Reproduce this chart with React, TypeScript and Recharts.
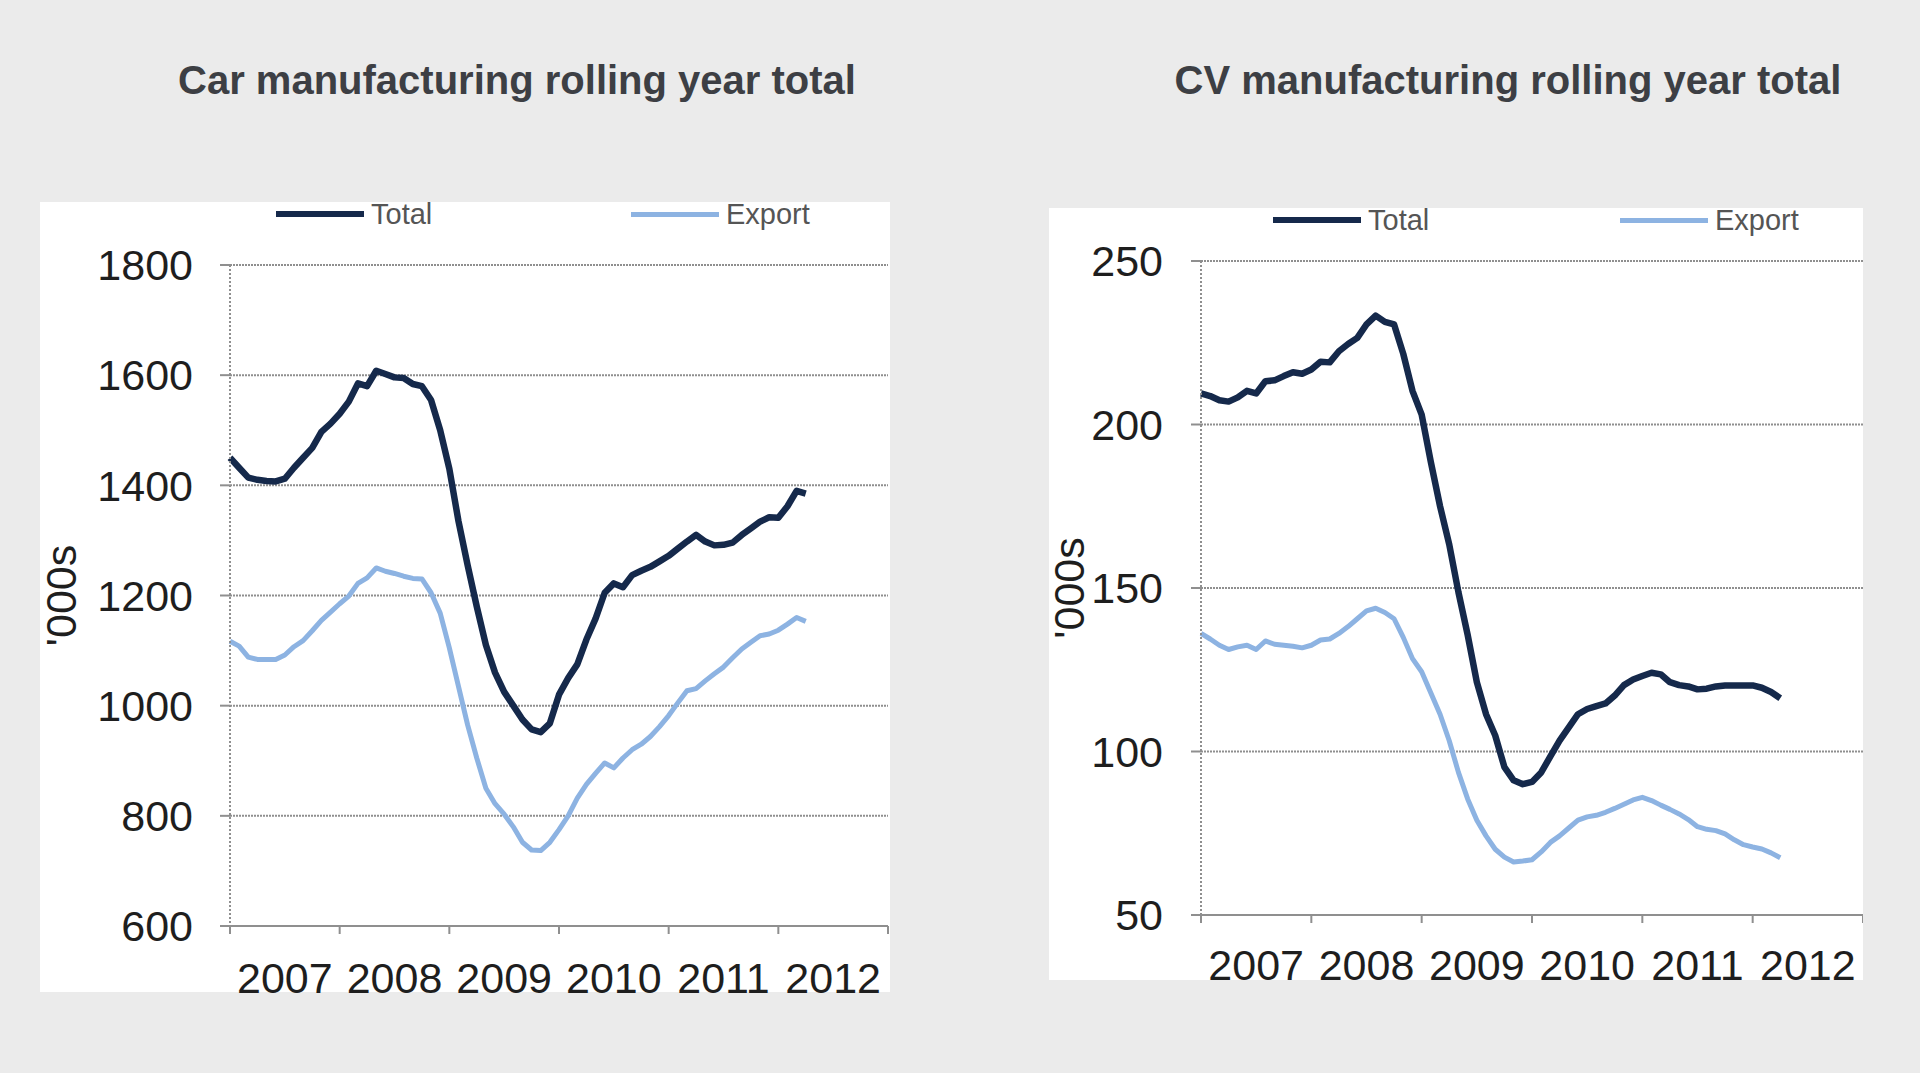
import React from 'react'
import { LineChart, Line, XAxis, YAxis, CartesianGrid, Legend } from 'recharts'

// month index from Jan 2007 (0) to Apr 2012 (63)
const monthIndex = [
  0, 1, 2, 3, 4, 5, 6, 7, 8, 9, 10, 11, 12, 13, 14, 15, 16, 17, 18, 19, 20, 21, 22, 23, 24, 25, 26, 27, 28, 29, 30, 31,
  32, 33, 34, 35, 36, 37, 38, 39, 40, 41, 42, 43, 44, 45, 46, 47, 48, 49, 50, 51, 52, 53, 54, 55, 56, 57, 58, 59, 60, 61, 62, 63,
]
const yearLabels = ['2007', '2008', '2009', '2010', '2011', '2012']
const yearTicks = [0, 12, 24, 36, 48, 60, 72]

const carTotal = [
  1450, 1432, 1414, 1410, 1408, 1407, 1412, 1432, 1450, 1468, 1497, 1512, 1530, 1552, 1585, 1580,
  1608, 1602, 1596, 1595, 1584, 1580, 1555, 1500, 1430, 1335, 1255, 1180, 1110, 1060, 1025, 1000,
  975, 957, 952, 968, 1020, 1050, 1075, 1120, 1158, 1205, 1222, 1215, 1237, 1245, 1252, 1262,
  1272, 1285, 1298, 1310, 1298, 1291, 1292, 1296, 1310, 1322, 1334, 1342, 1341, 1362, 1390, 1385,
]
const carExport = [
  1117, 1108, 1088, 1084, 1084, 1084, 1092, 1107, 1118, 1136, 1155, 1170, 1185, 1199, 1222, 1232,
  1250, 1244, 1240, 1235, 1231, 1230, 1205, 1168, 1105, 1035, 965, 905, 850, 822, 803, 780,
  752, 738, 737, 752, 775, 800, 832, 857, 877, 896, 887, 905, 920, 930, 944, 962,
  982, 1005, 1027, 1031, 1045, 1058, 1070, 1087, 1103, 1115, 1127, 1130, 1137, 1148, 1160, 1153,
]
const cvTotal = [
  209.5, 208.7, 207.4, 207, 208.3, 210.3, 209.5, 213.2, 213.5, 214.8, 216, 215.5, 216.8, 219.2, 219, 222.4,
  224.6, 226.5, 230.6, 233.3, 231.4, 230.6, 221.6, 210.3, 203, 188.5, 175, 163.3, 148.7, 135.7, 121.2, 111.4,
  104.9, 95.2, 91.2, 90, 90.7, 93.6, 98.5, 103.3, 107.4, 111.4, 113, 113.9, 114.7, 117.1, 120.3, 122,
  123.1, 124.1, 123.6, 121.2, 120.3, 119.9, 119, 119.2, 119.9, 120.2, 120.2, 120.2, 120.2, 119.5, 118.2, 116.3,
]
const cvExport = [
  136.1, 134.4, 132.5, 131.2, 132, 132.5, 131.2, 133.8, 132.8, 132.5, 132.2, 131.7, 132.5, 134.1, 134.4, 136.1,
  138.2, 140.6, 143, 143.8, 142.5, 140.6, 134.9, 128.4, 124.4, 117.9, 111.4, 103.3, 93.6, 85.5, 79, 74.2,
  70.1, 67.7, 66.2, 66.5, 66.9, 69.3, 72.2, 74.2, 76.6, 79, 80, 80.5, 81.4, 82.6, 83.9, 85.2,
  86, 85, 83.6, 82.3, 80.9, 79.2, 77, 76.2, 75.8, 74.8, 73, 71.5, 70.8, 70.2, 69, 67.5,
]
const carTicks = [600, 800, 1000, 1200, 1400, 1600, 1800]
const cvTicks = [50, 100, 150, 200, 250]

const FONT = '"Liberation Sans", Arial, Helvetica, sans-serif'
const TOTAL_COLOR = '#15294b'
const EXPORT_COLOR = '#8db3e2'
const AXIS_TEXT = '#1e1e1e'
const GRID = '#8f8f8f'
// extra room round the svg so big labels are not clipped
const PAD_LEFT = 24
const PAD_BOTTOM = 24

function buildRows(total: number[], exp: number[]) {
  return monthIndex.map((m, i) => ({ m, total: total[i], export: exp[i] }))
}

const makeYearTick = (halfYear: number) => (props: any) => {
  const { x, y, payload } = props
  const idx = yearTicks.indexOf(payload.value)
  if (idx < 0 || idx >= yearLabels.length) return <g />
  return (
    <text x={x + halfYear} y={y} dy="0.71em" textAnchor="middle" fontSize={43} fill={AXIS_TEXT} fontFamily={FONT}>
      {yearLabels[idx]}
    </text>
  )
}

interface PanelProps {
  title: string
  titleCenter: number
  rows: Array<{ m: number; total: number; export: number }>
  yDomain: [number, number]
  yTicks: number[]
  left: number
  top: number
  width: number
  height: number
  yAxisWidth: number
  marginTop: number
  marginRight: number
  xAxisHeight: number
  yTickMargin: number
  xTickMargin: number
  yLabelX: number
  legendY: number
  legendX: Record<string, number>
}

function Panel(p: PanelProps) {
  const plotWidth = p.width - p.yAxisWidth - p.marginRight
  const halfYear = plotWidth / 12
  return (
    <>
      <div
        style={{
          position: 'absolute',
          left: p.titleCenter - 500,
          top: 55,
          width: 1000,
          height: 50,
          lineHeight: '50px',
          textAlign: 'center',
          fontFamily: FONT,
          fontWeight: 'bold',
          fontSize: 40,
          color: '#3d3f44',
        }}
      >
        {p.title}
      </div>
      <div style={{ position: 'absolute', left: p.left, top: p.top, width: p.width, height: p.height, background: '#ffffff' }} />
      <div style={{ position: 'absolute', left: p.left - PAD_LEFT, top: p.top }}>
        <LineChart
          width={p.width + PAD_LEFT}
          height={p.height + PAD_BOTTOM}
          data={p.rows}
          margin={{ top: p.marginTop, right: p.marginRight, left: 0, bottom: 0 }}
        >
          <CartesianGrid vertical={false} stroke={GRID} strokeDasharray="2 1" strokeWidth={2} />
          <XAxis
            dataKey="m"
            type="number"
            domain={[0, 72]}
            ticks={yearTicks}
            interval={0}
            height={p.xAxisHeight + PAD_BOTTOM}
            tickSize={8}
            tickMargin={p.xTickMargin}
            tickLine={{ stroke: GRID, strokeWidth: 2 }}
            axisLine={{ stroke: GRID, strokeWidth: 2 }}
            tick={makeYearTick(halfYear)}
          />
          <YAxis
            domain={p.yDomain}
            ticks={p.yTicks}
            interval={0}
            width={p.yAxisWidth + PAD_LEFT}
            tickSize={10}
            tickMargin={p.yTickMargin}
            tickLine={{ stroke: GRID, strokeWidth: 2 }}
            axisLine={{ stroke: GRID, strokeWidth: 2, strokeDasharray: '2 2' }}
            tick={{ fill: AXIS_TEXT, fontSize: 43, fontFamily: FONT }}
            label={{
              content: (lp: any) => {
                const vb = lp.viewBox || {}
                const cy = vb.y + vb.height / 2
                const lx = p.yLabelX + PAD_LEFT
                return (
                  <text
                    x={lx}
                    y={cy}
                    transform={`rotate(-90 ${lx} ${cy})`}
                    textAnchor="middle"
                    dominantBaseline="central"
                    fontSize={43}
                    fill={AXIS_TEXT}
                    fontFamily={FONT}
                  >
                    '000s
                  </text>
                )
              },
            }}
          />
          <Legend
            verticalAlign="top"
            wrapperStyle={{ top: 0, left: 0, width: p.width + PAD_LEFT, height: 0 }}
            content={(lp: any) => (
              <div style={{ position: 'relative', height: 0 }}>
                {(lp.payload || []).map((item: any) => (
                  <div
                    key={item.value}
                    style={{
                      position: 'absolute',
                      left: p.legendX[item.value] + PAD_LEFT,
                      top: p.legendY - 20,
                      height: 40,
                      display: 'flex',
                      alignItems: 'center',
                      fontFamily: FONT,
                      fontSize: 29,
                      color: '#555555',
                      whiteSpace: 'nowrap',
                    }}
                  >
                    <span
                      style={{
                        display: 'inline-block',
                        width: 88,
                        height: item.value === 'Total' ? 6 : 5,
                        background: item.color,
                        marginRight: 7,
                      }}
                    />
                    {item.value}
                  </div>
                ))}
              </div>
            )}
          />
          <Line
            type="linear"
            dataKey="total"
            name="Total"
            stroke={TOTAL_COLOR}
            strokeWidth={6.5}
            strokeLinejoin="round"
            dot={false}
            activeDot={false}
            isAnimationActive={false}
          />
          <Line
            type="linear"
            dataKey="export"
            name="Export"
            stroke={EXPORT_COLOR}
            strokeWidth={5}
            strokeLinejoin="round"
            dot={false}
            activeDot={false}
            isAnimationActive={false}
          />
        </LineChart>
      </div>
    </>
  )
}

export default function App() {
  return (
    <div style={{ position: 'absolute', left: 0, top: 0, width: 1920, height: 1073, background: '#ebebeb', overflow: 'hidden' }}>
      <Panel
        title="Car manufacturing rolling year total"
        titleCenter={517}
        rows={buildRows(carTotal, carExport)}
        yDomain={[600, 1800]}
        yTicks={carTicks}
        left={40}
        top={202}
        width={850}
        height={790}
        yAxisWidth={190}
        marginTop={63}
        marginRight={2}
        xAxisHeight={66}
        yTickMargin={27}
        xTickMargin={28}
        yLabelX={21}
        legendY={12}
        legendX={{ Total: 236, Export: 591 }}
      />
      <Panel
        title="CV manufacturing rolling year total"
        titleCenter={1508}
        rows={buildRows(cvTotal, cvExport)}
        yDomain={[50, 250]}
        yTicks={cvTicks}
        left={1049}
        top={208}
        width={814}
        height={772}
        yAxisWidth={152}
        marginTop={53}
        marginRight={0}
        xAxisHeight={65}
        yTickMargin={28}
        xTickMargin={26}
        yLabelX={20}
        legendY={12}
        legendX={{ Total: 224, Export: 571 }}
      />
    </div>
  )
}
